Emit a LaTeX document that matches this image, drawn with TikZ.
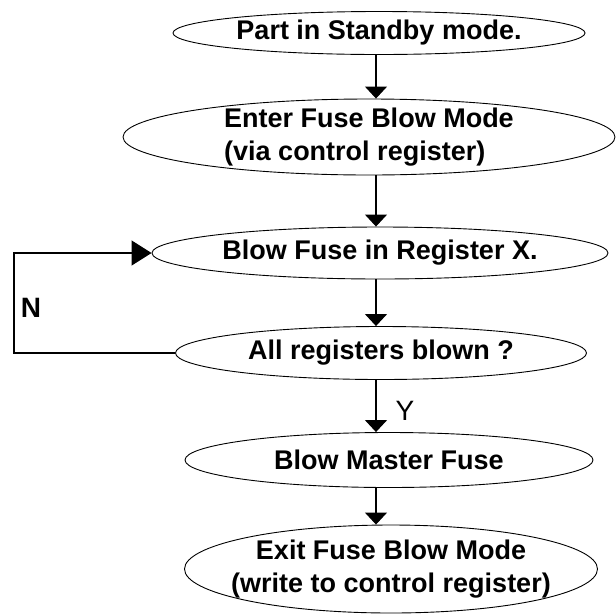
\documentclass[tikz,border=0pt]{standalone}
\usepackage{fontspec}
\setmainfont{Liberation Sans}
\usetikzlibrary{shapes.geometric, arrows.meta}

\begin{document}
\begin{tikzpicture}[x=1pt, y=-1pt,
    stepbox/.style={draw, ellipse, line width=0.9pt, inner sep=0pt,
      font=\fontsize{27}{33}\selectfont\bfseries},
    flow/.style={line width=1.2pt, -{Triangle[width=22pt, length=12pt]}},
    back/.style={line width=1.2pt, -{Triangle[width=25pt, length=20pt]}},
    flag/.style={font=\fontsize{28}{30}\selectfont}]
  \useasboundingbox (0,0) rectangle (616,614);

  \node[stepbox, minimum width=412pt, minimum height=43pt] (standby) at (379,33) {Part in Standby mode.};
  \node[stepbox, minimum width=492pt, minimum height=76pt, inner ysep=-4pt, align=left] (enter) at (369,137) {Enter Fuse Blow Mode\\(via control register)};
  \node[stepbox, minimum width=456pt, minimum height=52pt] (blow) at (380,253) {Blow Fuse in Register X.};
  \node[stepbox, minimum width=411pt, minimum height=53pt] (done) at (381,353) {All registers blown ?};
  \node[stepbox, minimum width=408pt, minimum height=55pt] (master) at (389,460) {Blow Master Fuse};
  \node[stepbox, minimum width=413pt, minimum height=88pt, inner xsep=-14pt, align=center] (exit) at (391,569) {Exit Fuse Blow Mode\\(write to control register)};

  % main column of arrows runs a little left of the ellipse centres
  \coordinate (col) at (376,0);
  \draw[flow] (standby.south -| col) -- (enter.north -| col);
  \draw[flow] (enter.south -| col) -- (blow.north -| col);
  \draw[flow] (blow.south -| col) -- (done.north -| col);
  \draw[flow] (done.south -| col) -- (master.north -| col);
  \draw[flow] (master.south -| col) -- (exit.north -| col);

  % "no" loop back round the left side
  \coordinate (side) at (14,300);
  \draw[back] (done.west) -| (side) |- (blow.west);

  \node[flag, font=\fontsize{28}{30}\selectfont\bfseries] (no) at (31,308) {N};
  \node[flag] (yes) at (405,411) {Y};
\end{tikzpicture}
\end{document}
